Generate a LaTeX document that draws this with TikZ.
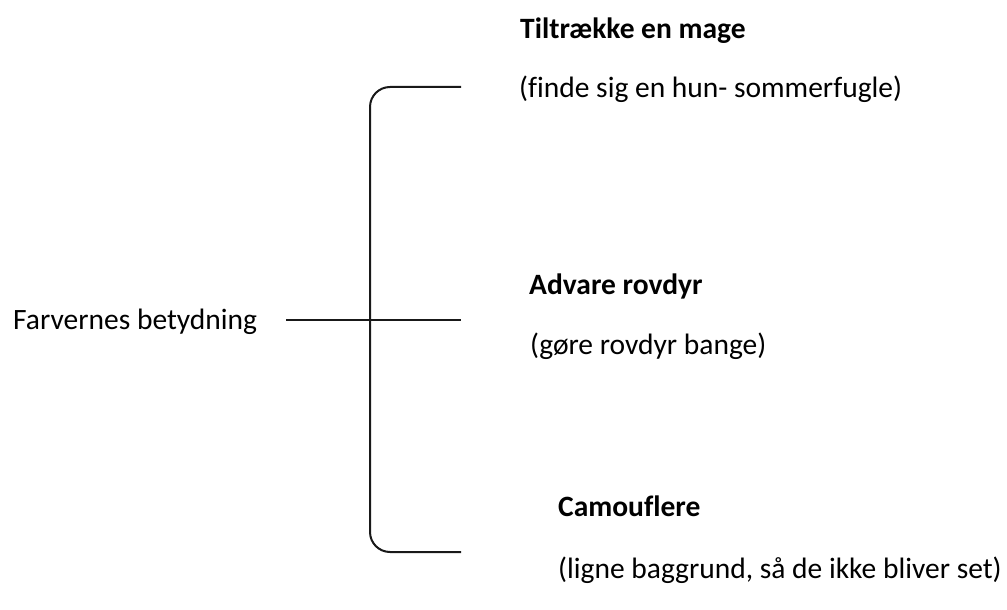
\documentclass[tikz,border=0pt]{standalone}
\usepackage{fontspec}
\setmainfont{Carlito}[Ligatures=NoCommon]
\begin{document}
\begin{tikzpicture}[x=1pt,y=-1pt,
  lbl/.style={anchor=base west,inner sep=0pt,font=\fontsize{29.5}{34}\selectfont},
  head/.style={lbl,font=\fontsize{29.5}{34}\selectfont\bfseries},
  br/.style={line width=2pt,black!90}]
\useasboundingbox (0,0) rectangle (1007,610);
% labels
\node[lbl]  (root) at (13,329) {Farvernes betydning};
\node[head] (h1) at (520,39)  {Tiltrække en mage};
\node[lbl]  (s1) at (519,98)  {(finde sig en hun- sommerfugle)};
\node[head] (h2) at (529,294) {Advare rovdyr};
\node[lbl]  (s2) at (530,354) {(gøre rovdyr bange)};
\node[head] (h3) at (558,516) {Camouflere};
\node[lbl]  (s3) at (558,578) {(ligne baggrund, så de ikke bliver set)};
% bracket
\coordinate (top) at (461,87);
\coordinate (bot) at (461,552);
\coordinate (mid) at (461,320);
\coordinate (stem) at (286,320);
\draw[br,rounded corners=20pt] (top) -- (370,87) -- (370,552) -- (bot);
\draw[br] (stem) -- (mid);
\end{tikzpicture}
\end{document}
